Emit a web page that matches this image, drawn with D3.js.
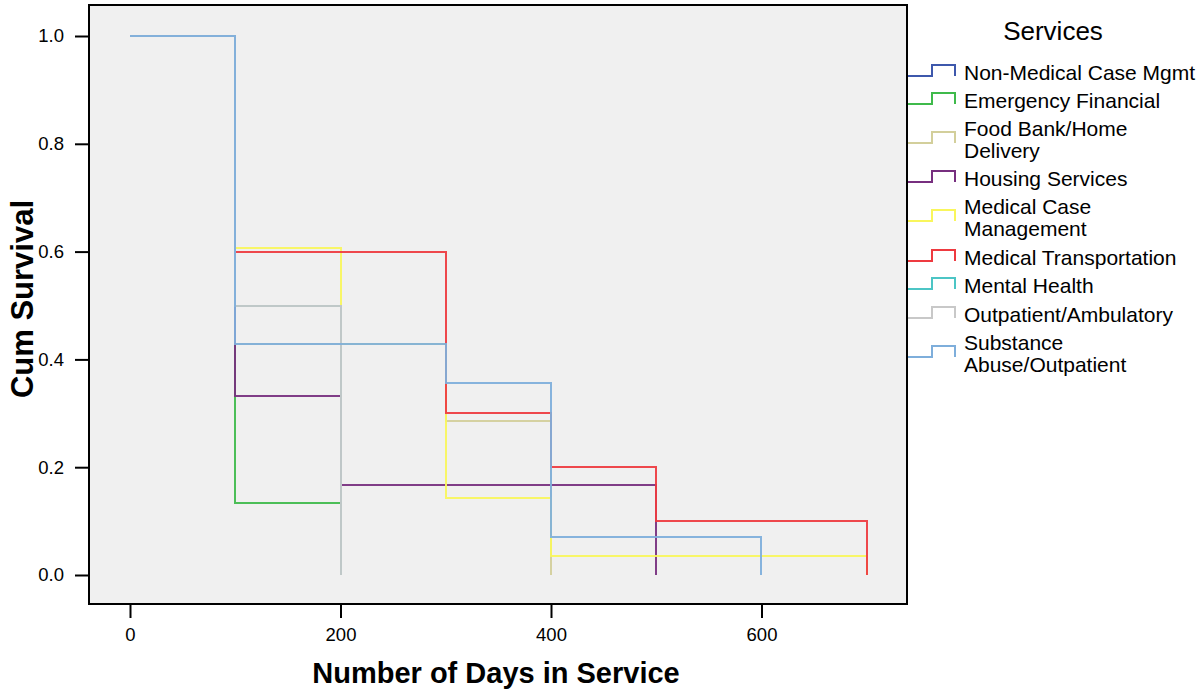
<!DOCTYPE html>
<html><head><meta charset="utf-8">
<script src="https://cdn.jsdelivr.net/npm/d3@7"></script>
<style>
body{margin:0;background:#fff;}
text{font-family:"Liberation Sans",Arial,Helvetica,sans-serif;}
</style></head>
<body><svg id="c" width="1204" height="694"></svg>
<script>
// ---- data ----
const days = [0, 100, 200, 300, 400, 500, 600, 700];
const services = ["Non-Medical Case Mgmt","Emergency Financial","Food Bank/Home Delivery","Housing Services","Medical Case Management","Medical Transportation","Mental Health","Outpatient/Ambulatory","Substance Abuse/Outpatient"];
const legendLines = [["Non-Medical Case Mgmt"],["Emergency Financial"],["Food Bank/Home","Delivery"],["Housing Services"],["Medical Case","Management"],["Medical Transportation"],["Mental Health"],["Outpatient/Ambulatory"],["Substance","Abuse/Outpatient"]];
const colors = ["#3e58ac","#3fba4b","#d3cf9b","#772f7f","#f9f65c","#ee3a40","#4cc5c5","#c8c8c8","#7eaedb"];
const nonMedical   = [1.0, 0.5, 0.0];
const emergency    = [1.0, 0.133, 0.0];
const foodBank     = [1.0, 0.429, 0.429, 0.286, 0.0];
const housing      = [1.0, 0.333, 0.167, 0.167, 0.167, 0.0];
const medicalCase  = [1.0, 0.607, 0.429, 0.143, 0.036, 0.036, 0.036, 0.0];
const medTransport = [1.0, 0.6, 0.6, 0.3, 0.2, 0.1, 0.1, 0.0];
const mentalHealth = [1.0, 0.5, 0.0];
const outpatient   = [1.0, 0.5, 0.0];
const substance    = [1.0, 0.429, 0.429, 0.357, 0.071, 0.071, 0.0];
const seriesValues = [nonMedical, emergency, foodBank, housing, medicalCase, medTransport, mentalHealth, outpatient, substance];
const xTicks = [0, 200, 400, 600];
const yTicks = [0.0, 0.2, 0.4, 0.6, 0.8, 1.0];

// ---- chart ----
const svg = d3.select("#c");
const frame = {l: 89, r: 907, t: 5, b: 604};
const x = d3.scaleLinear().domain([0, 700]).range([130, 866.75]);
const y = d3.scaleLinear().domain([0, 1]).range([575, 36]);

svg.append("rect").attr("x", frame.l).attr("y", frame.t)
  .attr("width", frame.r - frame.l).attr("height", frame.b - frame.t)
  .attr("fill", "#f0f0f0");

const line = d3.line().x(d => Math.round(x(d[0]))).y(d => Math.round(y(d[1]))).curve(d3.curveStepAfter);
const g = svg.append("g");
seriesValues.forEach((vals, i) => {
  const pts = vals.map((v, j) => [days[j], v]);
  g.append("path").attr("d", line(pts)).attr("fill", "none")
    .attr("stroke", colors[i]).attr("stroke-width", 2).attr("stroke-opacity", 0.93);
});

svg.append("rect").attr("x", frame.l).attr("y", frame.t)
  .attr("width", frame.r - frame.l).attr("height", frame.b - frame.t)
  .attr("fill", "none").attr("stroke", "#000").attr("stroke-width", 2);

// axes
const yAxis = d3.axisLeft(y).tickValues(yTicks).tickFormat(d3.format(".1f")).tickSize(14).tickPadding(11);
const ya = svg.append("g").attr("transform", `translate(${frame.l},0)`).call(yAxis);
ya.select(".domain").remove();
ya.selectAll("line").attr("stroke", "#000").attr("stroke-width", 2);
ya.selectAll("text").attr("font-size", 18.5).attr("fill", "#000").attr("font-family", "Liberation Sans, Arial, sans-serif");

const xAxis = d3.axisBottom(x).tickValues(xTicks).tickFormat(d3.format("d")).tickSize(14).tickPadding(10);
const xa = svg.append("g").attr("transform", `translate(0,${frame.b})`).call(xAxis);
xa.select(".domain").remove();
xa.selectAll("line").attr("stroke", "#000").attr("stroke-width", 2);
xa.selectAll("text").attr("font-size", 18.5).attr("fill", "#000").attr("font-family", "Liberation Sans, Arial, sans-serif");

svg.append("text").attr("transform", "translate(33,299) rotate(-90)")
  .attr("text-anchor", "middle").attr("font-size", 31).attr("font-weight", "bold")
  .text("Cum Survival");
svg.append("text").attr("x", 496).attr("y", 683)
  .attr("text-anchor", "middle").attr("font-size", 29).attr("font-weight", "bold")
  .text("Number of Days in Service");

// legend
svg.append("text").attr("x", 1053).attr("y", 40).attr("text-anchor", "middle")
  .attr("font-size", 26).text("Services");
const rowCenters = [72, 100, 139, 178, 217, 257, 285, 314, 353];
legendLines.forEach((lines, i) => {
  const cy = rowCenters[i];
  const lo = cy + 4, hi = cy - 7;
  svg.append("path").attr("d", `M908,${lo}H932V${hi}H955V${lo}`)
    .attr("fill", "none").attr("stroke", colors[i]).attr("stroke-width", 2);
  const t = svg.append("text").attr("x", 964).attr("font-size", 21);
  const n = lines.length;
  lines.forEach((s, k) => {
    t.append("tspan").attr("x", 964)
      .attr("y", cy + 7.5 + (k - (n - 1) / 2) * 22).text(s);
  });
});
</script></body></html>
